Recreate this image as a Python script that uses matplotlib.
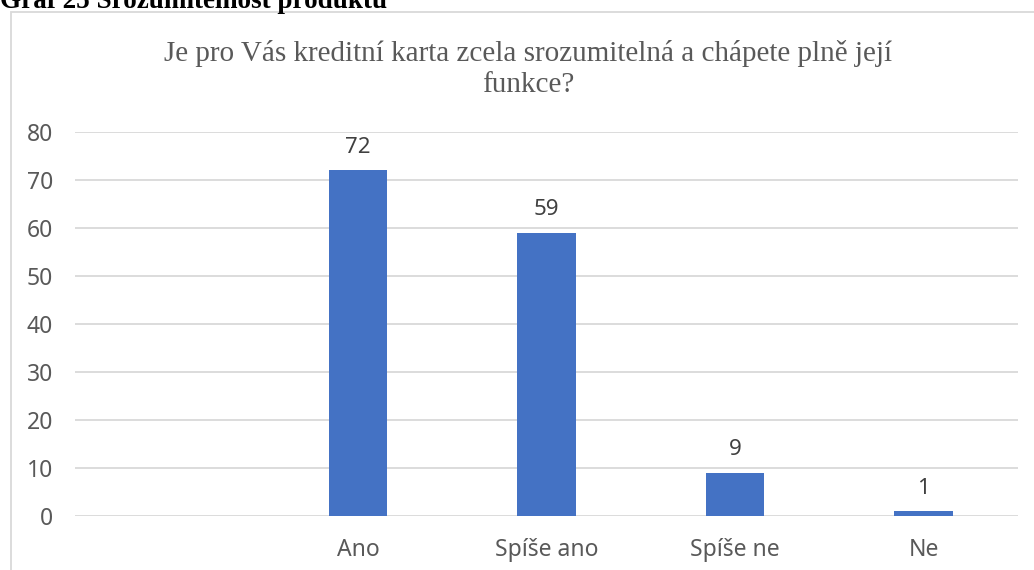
import matplotlib.pyplot as plt
import matplotlib.patches as mpatches
import numpy as np

# data
categories = ["", "Ano", "Spíše ano", "Spíše ne", "Ne"]
values = [np.nan, 72, 59, 9, 1]
yticks = [0, 10, 20, 30, 40, 50, 60, 70, 80]

fig = plt.figure(figsize=(10.34, 5.70), dpi=100)
ax = fig.add_axes([75 / 1034, 1 - 516 / 570, (1018 - 75) / 1034, (516 - 132) / 570])

x = np.arange(len(categories))
bars = ax.bar(x, values, width=0.31, color='#4472C4', zorder=3)
for xi, v in zip(x, values):
    if not np.isnan(v):
        ax.text(xi, v + 2.6, str(v), ha='center', va='bottom', fontsize=16,
                color='#404040', family='Noto Sans')

ax.set_xlim(-0.5, len(categories) - 0.5)
ax.set_ylim(0, 80)
ax.set_yticks(yticks)
ax.set_xticks(x)
ax.set_xticklabels(categories)
ax.grid(axis='y', color='#d9d9d9', linewidth=1.3, zorder=0)
for s in ax.spines.values():
    s.set_visible(False)
ax.tick_params(length=0, labelsize=16.5, labelcolor='#595959')
ax.tick_params(axis='y', pad=16)
ax.tick_params(axis='x', pad=16)
for lab in ax.get_xticklabels() + ax.get_yticklabels():
    lab.set_family('Noto Sans')

# chart border (cut at right and bottom)
fig.patches.append(mpatches.Rectangle((11 / 1034, -0.1), 1.2, 1 - 12 / 570 + 0.1,
                                      transform=fig.transFigure, fill=False,
                                      edgecolor='#d9d9d9', linewidth=1.3))

fig.text(528 / 1034, 1 - 69 / 570,
         "Je pro Vás kreditní karta zcela srozumitelná a chápete plně její\nfunkce?",
         ha='center', va='center', fontsize=21, color='#595959',
         family='Liberation Serif', linespacing=1.25)

fig.text(0.0, 1 - 8 / 570, "Graf 25 Srozumitelnost produktu", ha='left',
         va='baseline', fontsize=19.5, fontweight='bold', family='Liberation Serif')

fig.savefig('out.png', dpi=100)
